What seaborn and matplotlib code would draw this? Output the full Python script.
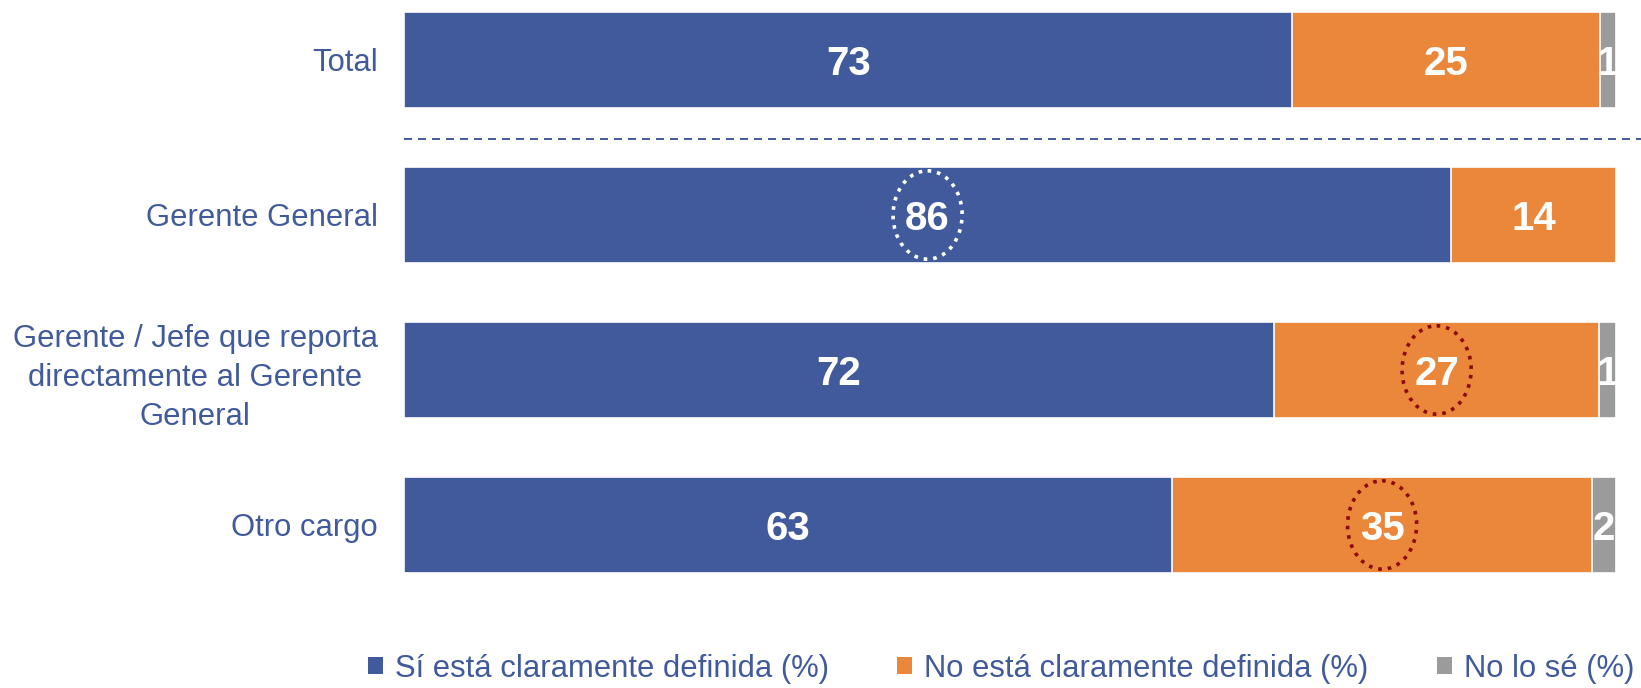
import matplotlib.pyplot as plt
import numpy as np
import seaborn as sns
from matplotlib.patches import Ellipse, Patch

# ---------------- data ----------------
categories = [
    "Total",
    "Gerente General",
    "Gerente / Jefe que reporta\ndirectamente al Gerente\nGeneral",
    "Otro cargo",
]
si_definida = [73.3, 86.4, 71.8, 63.4]
no_definida = [25.4, 13.6, 26.8, 34.6]
no_se = [1.3, 0.0, 1.4, 2.0]

series_names = [
    "Sí está claramente definida (%)",
    "No está claramente definida (%)",
    "No lo sé (%)",
]

# (row, series index, ring colour)
highlights = [(1, 0, "white"), (2, 1, "#8B0A0A"), (3, 1, "#8B0A0A")]

# ---------------- style ----------------
blue = "#405A9B"
orange = "#EB873A"
grey = "#9B9B9B"
colors = [blue, orange, grey]

sns.set_style("white")
plt.rcParams["font.family"] = ["Liberation Sans", "DejaVu Sans"]

fig = plt.figure(figsize=(16.41, 6.88), dpi=100)
ax = fig.add_axes([404 / 1641, 1 - 600 / 688, 1212 / 1641, 600 / 688])

series = [np.array(si_definida), np.array(no_definida), np.array(no_se)]
cum = np.cumsum(series, axis=0)

# stacked bars: draw cumulative totals from the back to the front
for i in [2, 1, 0]:
    sns.barplot(x=cum[i], y=categories, orient="h", color=colors[i],
                saturation=1, width=0.62, edgecolor="white", linewidth=1.2,
                ax=ax)

# value labels (baseline placed so the digits sit centred in the bar)
for i in range(3):
    starts = cum[i] - series[i]
    for r in range(len(categories)):
        v = series[i][r]
        if v <= 0:
            continue
        ax.text(starts[r] + v / 2, r + 0.094, f"{round(v):d}", ha="center",
                va="baseline", color="white", fontsize=29, fontweight="bold")

# dotted rings
for r, i, c in highlights:
    cx = cum[i][r] - series[i][r] / 2
    ax.add_patch(Ellipse((cx, r), 5.7, 0.57, fill=False, edgecolor=c,
                         linestyle=":", linewidth=2.6, zorder=5))

# separator below total
ax.plot([0, 102.1], [0.51, 0.51], color=blue, linewidth=1.4,
        linestyle=(0, (4.1, 3.1)), clip_on=False)

ax.set_xlim(0, 100)
ax.set_ylim(3.484, -0.387)
ax.set_xlabel("")
ax.set_ylabel("")
ax.set_xticks([])
sns.despine(ax=ax, left=True, bottom=True)
ax.tick_params(axis="y", length=0, pad=19, labelsize=22.3, labelcolor=blue)
for t in ax.get_yticklabels():
    t.set_multialignment("center")
    t.set_linespacing(1.4)

handles = [Patch(facecolor=c, edgecolor="none") for c in colors]
fig.legend(handles, series_names, loc="center", bbox_to_anchor=(0.61, 0.028),
           ncol=3, frameon=False, fontsize=22.3, handlelength=0.48,
           handleheight=0.48, handletextpad=0.4, columnspacing=2.2,
           labelcolor=blue)

fig.savefig("out.png", dpi=100)
